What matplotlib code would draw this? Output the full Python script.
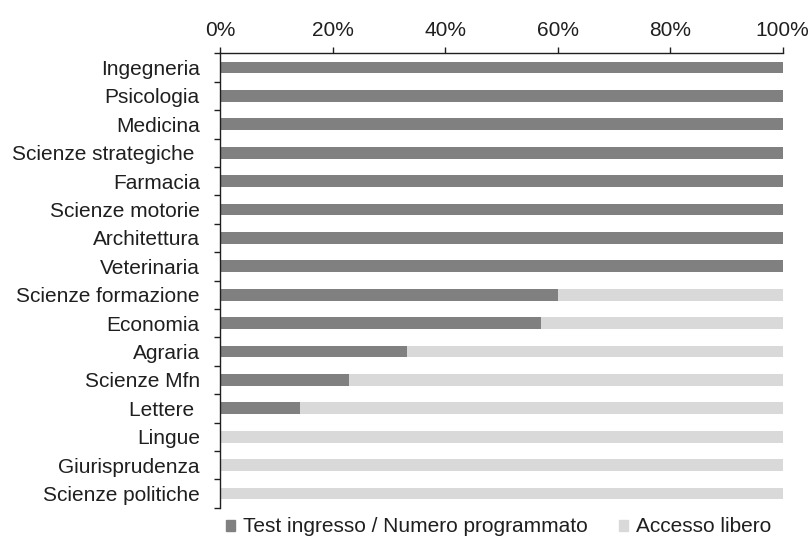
import matplotlib.pyplot as plt
from matplotlib.ticker import FuncFormatter
from matplotlib.patches import Patch

plt.rcParams['font.family'] = ['Liberation Sans', 'DejaVu Sans']

facolta = ["Ingegneria", "Psicologia", "Medicina", "Scienze strategiche ",
           "Farmacia", "Scienze motorie", "Architettura", "Veterinaria",
           "Scienze formazione", "Economia", "Agraria", "Scienze Mfn",
           "Lettere ", "Lingue", "Giurisprudenza", "Scienze politiche"]
test_ingresso = [100, 100, 100, 100, 100, 100, 100, 100,
                 60, 57, 33.2, 23, 14.2, 0, 0, 0]
accesso_libero = [100 - v for v in test_ingresso]

dark = "#808080"
light = "#d9d9d9"
txt = "#1f1f1f"

fig = plt.figure(figsize=(8.12, 5.37), dpi=100)
ax = fig.add_axes([220 / 812, 1 - 507.7 / 537, 562.7 / 812, 454.4 / 537])

y = list(range(len(facolta)))
ax.barh(y, [v / 100 for v in test_ingresso], height=0.41, color=dark)
ax.barh(y, [v / 100 for v in accesso_libero], height=0.41,
        left=[v / 100 for v in test_ingresso], color=light)

ax.set_xlim(0, 1)
ax.set_ylim(len(facolta) - 0.5, -0.5)
ax.xaxis.tick_top()
ax.set_xticks([0, 0.2, 0.4, 0.6, 0.8, 1.0])
ax.xaxis.set_major_formatter(FuncFormatter(lambda v, p: f"{v * 100:.0f}%"))
ax.tick_params(axis='x', direction='out', length=4.5, width=1, pad=5,
               labelsize=15, colors=txt)

ax.set_yticks(y)
ax.set_yticklabels(facolta)
ax.set_yticks([i - 0.5 for i in range(len(facolta) + 1)], minor=True)
ax.tick_params(axis='y', which='major', length=0, pad=14.5, labelsize=15,
               colors=txt)
ax.tick_params(axis='y', which='minor', length=4.5, width=1, direction='out',
               color=txt)

for s in ['right', 'bottom']:
    ax.spines[s].set_visible(False)
for s in ['top', 'left']:
    ax.spines[s].set_color(txt)
    ax.spines[s].set_linewidth(1)

handles = [Patch(color=dark, label="Test ingresso / Numero programmato"),
           Patch(color=light, label="Accesso libero")]
fig.legend(handles=handles, loc='center', bbox_to_anchor=(499 / 812, 1 - 527 / 537),
           ncol=2, frameon=False, fontsize=15, handlelength=0.43,
           handleheight=0.43, handletextpad=0.38, columnspacing=1.5,
           labelcolor=txt, borderpad=0)

fig.savefig("out.png", dpi=100)
